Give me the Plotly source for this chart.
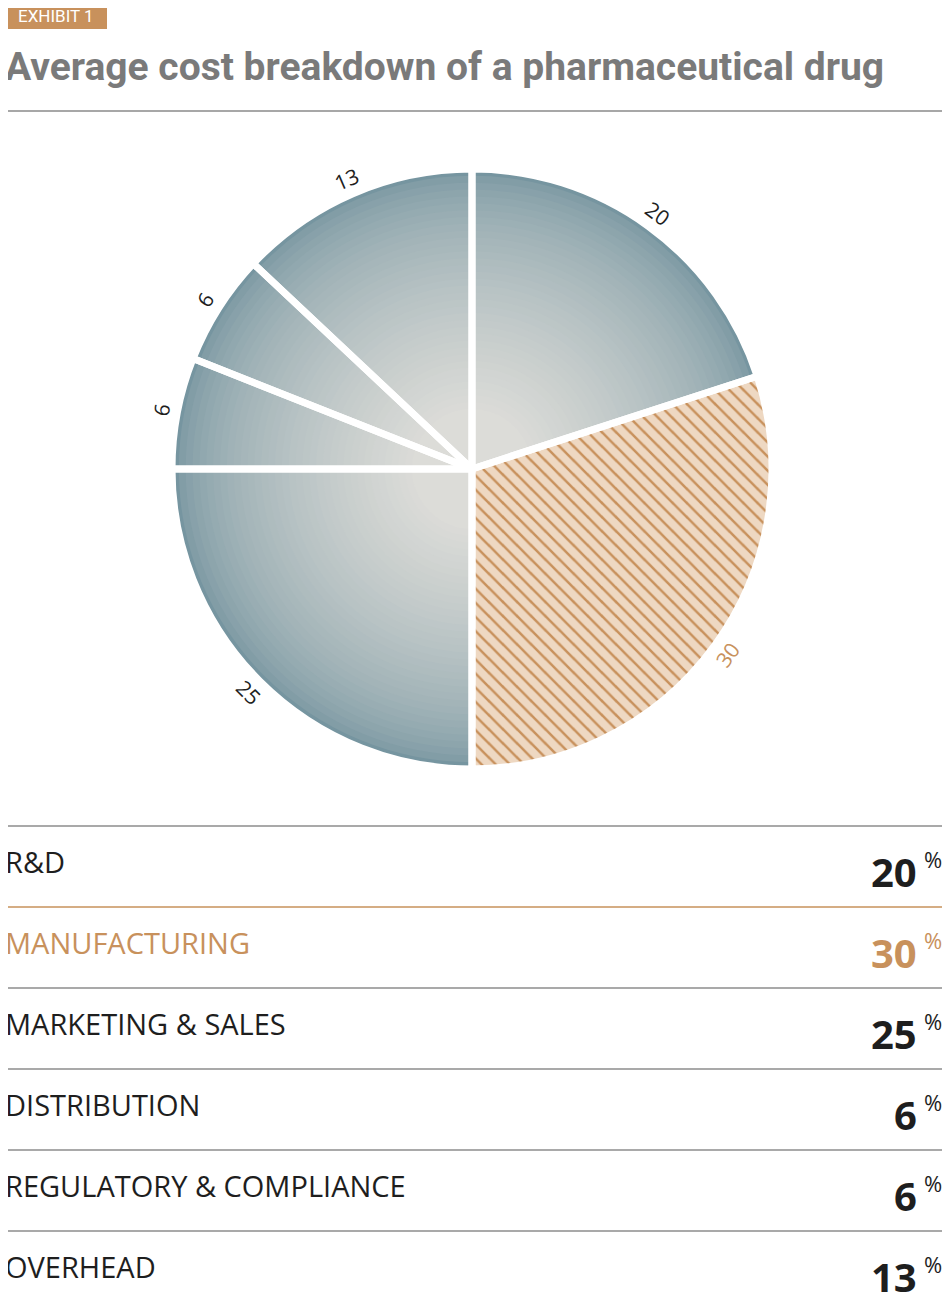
import plotly.graph_objects as go

categories = ["R&D", "MANUFACTURING", "MARKETING & SALES", "DISTRIBUTION", "REGULATORY & COMPLIANCE", "OVERHEAD"]
values = [20, 30, 25, 6, 6, 13]
highlight = "MANUFACTURING"

ORANGE = "#c8915c"
DARK = "#1e1e1e"
W, H = 950, 1293
OX, OY = 9, 9  # compensate page offset
cx, cy, r = 473 - OX, 470 - OY, 300

def px(x):
    return (x - OX) / W

def py(y):
    return 1 - (y - OY) / H

def dom(rad):
    return dict(x=[(cx - rad) / W, (cx + rad) / W], y=[1 - (cy + rad) / H, 1 - (cy - rad) / H])

fig = go.Figure()
outer = (118, 149, 160)
inner = (220, 220, 216)
n = 36
for i in range(n):
    t = i / (n - 1)
    t2 = t ** 0.6
    c = tuple(int(outer[k] + (inner[k] - outer[k]) * t2) for k in range(3))
    col = "rgb(%d,%d,%d)" % c
    rad = r * (1 - t * 0.8)
    colors = []
    for cat in categories:
        if cat == highlight:
            colors.append("#eed8c2" if i == 0 else "rgba(0,0,0,0)")
        else:
            colors.append(col)
    mk = dict(colors=colors, line=dict(width=0))
    if i == 0:
        mk["pattern"] = dict(shape=["", "\\", "", "", "", ""], fgcolor=ORANGE, bgcolor="#eed8c2", size=10, solidity=0.25)
    fig.add_trace(go.Pie(values=values, labels=categories, sort=False, direction="clockwise",
                         domain=dom(rad), marker=mk, textinfo="none", hoverinfo="skip", showlegend=False))
fig.add_trace(go.Pie(values=values, labels=categories, sort=False, direction="clockwise", domain=dom(r),
                     marker=dict(colors=["rgba(0,0,0,0)"] * 6, line=dict(color="white", width=7)),
                     textinfo="none", hoverinfo="skip", showlegend=False))
fig.add_trace(go.Pie(values=values, labels=categories, sort=False, direction="clockwise", domain=dom(r + 40), hole=0.86,
                     marker=dict(colors=["rgba(0,0,0,0)"] * 6, line=dict(width=0)),
                     text=[str(v) for v in values], textinfo="text", textposition="inside",
                     insidetextorientation="tangential",
                     insidetextfont=dict(size=21, family="Open Sans", color=[ORANGE if c == highlight else DARK for c in categories]),
                     hoverinfo="skip", showlegend=False))

shapes = [
    dict(type="rect", xref="paper", yref="paper", x0=px(5), x1=px(108), y0=py(30), y1=py(3),
         fillcolor=ORANGE, line=dict(width=0), layer="below"),
    dict(type="line", xref="paper", yref="paper", x0=px(5), x1=px(945), y0=py(112), y1=py(112),
         line=dict(color="#8a8a8a", width=1.5)),
]
ann = [
    dict(text="EXHIBIT 1", x=px(57), y=py(17), xref="paper", yref="paper", xanchor="center", yanchor="middle",
         showarrow=False, font=dict(size=17, color="white", family="Roboto")),
    dict(text="<b>Average cost breakdown of a pharmaceutical drug</b>", x=px(4), y=py(68), xref="paper", yref="paper",
         xanchor="left", yanchor="middle", showarrow=False, font=dict(size=39, color="#7a7a7a", family="Roboto")),
]
for i, (cat, v) in enumerate(zip(categories, values)):
    ytop = 827 + i * 81
    col = ORANGE if cat == highlight else DARK
    shapes.append(dict(type="line", xref="paper", yref="paper", x0=px(5), x1=px(945), y0=py(ytop), y1=py(ytop),
                       line=dict(color=ORANGE if cat == highlight else "#555", width=1.2)))
    ann.append(dict(text=cat, x=px(4), y=py(ytop + 35), xref="paper", yref="paper", xanchor="left", yanchor="middle",
                    showarrow=False, font=dict(size=29, color=col, family="Open Sans")))
    ann.append(dict(text="<b>%d</b>" % v, x=px(920), y=py(ytop + 45), xref="paper", yref="paper", xanchor="right",
                    yanchor="middle", showarrow=False, font=dict(size=40, color=col, family="Open Sans")))
    ann.append(dict(text="%", x=px(945), y=py(ytop + 33), xref="paper", yref="paper", xanchor="right",
                    yanchor="middle", showarrow=False, font=dict(size=22, color=col, family="Open Sans")))
shapes.append(dict(type="line", xref="paper", yref="paper", x0=px(5), x1=px(945), y0=py(908), y1=py(908),
                   line=dict(color=ORANGE, width=1.2)))

fig.update_layout(width=W, height=H, margin=dict(l=0, r=0, t=0, b=0), paper_bgcolor="white",
                  shapes=shapes, annotations=ann)
fig.write_html("out.html")
